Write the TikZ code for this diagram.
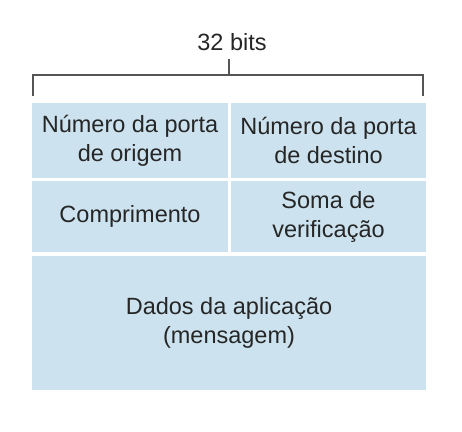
\documentclass[tikz,border=0pt]{standalone}
\usepackage{fontspec}
\setmainfont{Liberation Sans}
\usepackage{tikz}
\usetikzlibrary{positioning}

\definecolor{fieldblue}{RGB}{204,227,239}
\definecolor{bracketgray}{RGB}{85,85,85}

\tikzset{
  field/.style={fill=fieldblue, draw=none, inner sep=0pt, align=center,
    font=\fontsize{23.5}{29}\selectfont, text=black!85},
  brace/.style={draw=bracketgray, line width=1.4pt}
}

\begin{document}
\begin{tikzpicture}[x=1pt,y=-1pt]

    \useasboundingbox (0,0) rectangle (462,431);

    % header fields
    \node[field, minimum width=196, minimum height=75] (srcport) at (130,140.5)
      {N\'umero da porta\\de origem};
    \node[field, minimum width=195, minimum height=75] (dstport) at (328.5,140.5)
      {N\'umero da porta\\de destino};
    \node[field, minimum width=196, minimum height=71] (length) at (130,216.5)
      {Comprimento};
    \node[field, minimum width=195, minimum height=71] (checksum) at (328.5,216.5)
      {Soma de\\verifica\c{c}\~ao};

    % data
    \node[field, minimum width=394, minimum height=134] (appdata) at (229,323)
      {Dados da aplica\c{c}\~ao\\(mensagem)};

    % bracket
    \path (33,96) coordinate (bl) (33,75) coordinate (tl)
          (423,96) coordinate (br) (423,75) coordinate (tr)
          (229,75) coordinate (bm) (229,59) coordinate (tm);
    \draw[brace] (bl) -- (tl) -- (tr) -- (br) (bm) -- (tm);
    \node[font=\fontsize{23.5}{29}\selectfont, text=black!85] (width) at (232,42) {32 bits};

\end{tikzpicture}
\end{document}
